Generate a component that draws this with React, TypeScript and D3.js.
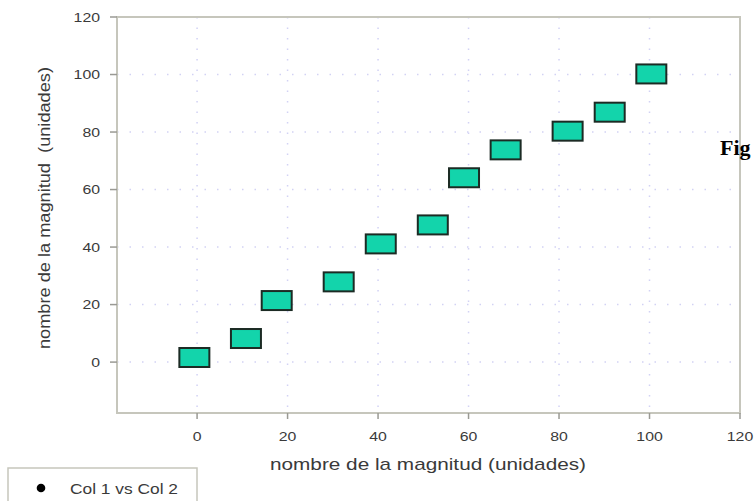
import * as d3 from "d3";

const col1 = [-0.6, 10.8, 17.6, 31.3, 40.6, 52.1, 59.0, 68.2, 81.9, 91.2, 100.4];
const col2 = [1.6, 8.2, 21.4, 27.9, 41.1, 47.7, 64.1, 73.8, 80.3, 86.9, 100.2];
const xTicks = [0, 20, 40, 60, 80, 100, 120];
const yTicks = [0, 20, 40, 60, 80, 100, 120];
const xLabel = "nombre de la magnitud (unidades)";
const yLabel = "nombre de la magnitud  (unidades)";
const legendLabel = "Col 1 vs Col 2";

const width = 755;
const height = 501;
const plot = { left: 117, right: 740, top: 17, bottom: 413 };
const axisColor = "#c6c6bc";
const gridColor = "#d2d2f4";
const font = "Arial, 'Liberation Sans', sans-serif";

// the source picture is stretched sideways, so text is widened to match
const tickWidth = (t: number) => String(t).length * 8.8;

export default function App() {
  const x = d3.scaleLinear().domain([-17.7, 120]).range([plot.left, plot.right]);
  const y = d3.scaleLinear().domain([-17.7, 120]).range([plot.bottom, plot.top]);
  const points = col1.map((v, i) => ({ x: v, y: col2[i] }));

  return (
    <div style={{ position: "absolute", left: 0, top: 0 }}>
      <svg width={width} height={height} style={{ display: "block", background: "#fff" }}>
        {/* dotted grid */}
        {xTicks.map((t) => (
          <line key={`gx-${t}`} x1={x(t)} x2={x(t)} y1={plot.top} y2={plot.bottom} stroke={gridColor} strokeWidth={1.5} strokeDasharray="1.5 9" />
        ))}
        {yTicks.map((t) => (
          <line key={`gy-${t}`} x1={plot.left} x2={plot.right} y1={y(t)} y2={y(t)} stroke={gridColor} strokeWidth={1.5} strokeDasharray="1.5 11" />
        ))}

        {/* frame */}
        <rect x={plot.left} y={plot.top} width={plot.right - plot.left} height={plot.bottom - plot.top} fill="none" stroke={axisColor} strokeWidth={2} />

        {/* x axis */}
        {xTicks.map((t) => (
          <g key={`x-${t}`} transform={`translate(${x(t)}, ${plot.bottom})`}>
            <line y1={0} y2={6} stroke="#9a9a94" strokeWidth={1.5} />
            <text y={28} textAnchor="middle" fontFamily={font} fontSize={12.5} fill="#3a3a3a" textLength={tickWidth(t)} lengthAdjust="spacingAndGlyphs">{t}</text>
          </g>
        ))}
        <text x={428} y={470} textAnchor="middle" fontFamily={font} fontSize={17} fill="#3a3a3a" textLength={316} lengthAdjust="spacingAndGlyphs">{xLabel}</text>

        {/* y axis */}
        {yTicks.map((t) => (
          <g key={`y-${t}`} transform={`translate(${plot.left}, ${y(t)})`}>
            <line x1={-7} x2={0} stroke="#9a9a94" strokeWidth={1.5} />
            <text x={-17} y={4.5} textAnchor="end" fontFamily={font} fontSize={12.5} fill="#3a3a3a" textLength={tickWidth(t)} lengthAdjust="spacingAndGlyphs">{t}</text>
          </g>
        ))}
        <text transform={`translate(50, 208) rotate(-90)`} textAnchor="middle" fontFamily={font} fontSize={16} fill="#3a3a3a" textLength={282} lengthAdjust="spacingAndGlyphs" style={{ whiteSpace: "pre" }}>{yLabel}</text>

        {/* markers */}
        {points.map((p, i) => (
          <rect key={i} x={x(p.x) - 15} y={y(p.y) - 9.5} width={30} height={19} fill="#13d4ab" stroke="#1c2b24" strokeWidth={2} />
        ))}

        {/* legend */}
        <rect x={8} y={468} width={189} height={40} fill="#fff" stroke={axisColor} strokeWidth={1.5} />
        <circle cx={41} cy={488} r={4.3} fill="#000" />
        <text x={70} y={494} fontFamily={font} fontSize={14} fill="#3a3a3a" textLength={108} lengthAdjust="spacingAndGlyphs">{legendLabel}</text>

        {/* caption fragment */}
        <text x={720} y={155} fontFamily="'Liberation Serif', 'Times New Roman', serif" fontWeight="bold" fontSize={22} fill="#000">Fig</text>
      </svg>
    </div>
  );
}
